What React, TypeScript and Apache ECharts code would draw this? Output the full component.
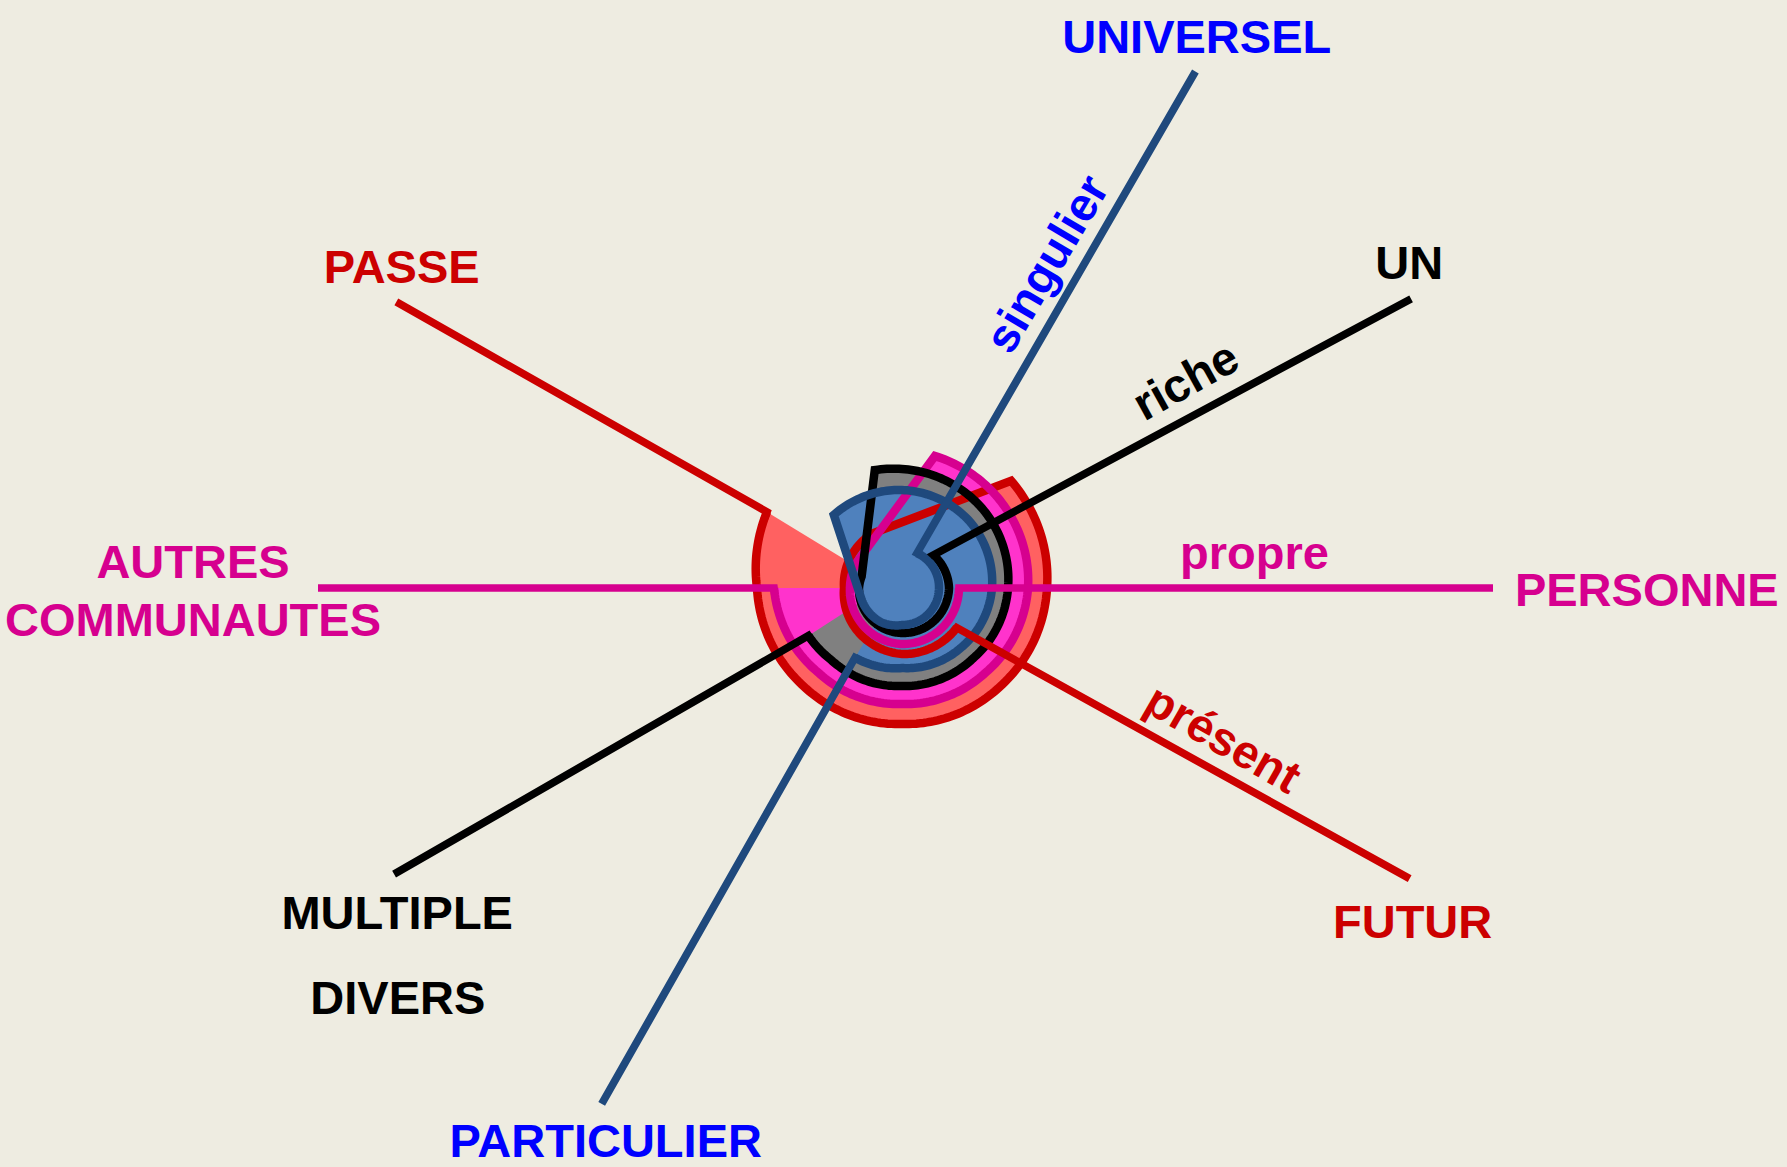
import React, { useEffect, useRef } from 'react';
import * as echarts from 'echarts';

// Spiral turns: [angle in degrees (counter-clockwise from east, continuing past 360), radius]
const redOuter = [[150.6, 155], [180, 145], [225, 139], [270, 136], [315, 139], [360, 145], [404.5, 153]];
const redInner = [[478, 62], [540, 58], [585, 62], [630, 66], [684, 67.6]];
const magentaOuter = [[180, 128], [225, 119], [270, 116], [315, 119], [360, 126], [436, 136]];
const magentaInner = [[510, 52], [540, 52], [630, 56], [720, 57]];
const blackOuter = [[207, 105], [225, 101], [270, 98], [315, 100], [360, 106], [405, 113], [450, 119], [463, 121]];
const blackInner = [[524, 42], [540, 43], [630, 45], [720, 47], [766.5, 45.5]];
const blueOuter = [[236, 84], [270, 80], [315, 84], [360, 90], [405, 95], [450, 98], [493, 100]];
const blueInner = [[557, 42], [600, 40], [630, 37], [720, 37], [786.6, 38]];

// Axis half-line far ends: [angle, radius]
const startAxisEnds = [[150.5, 581], [180, 584], [209.4, 583], [239.8, 597]]; // PASSE, AUTRES COMMUNAUTES, MULTIPLE, PARTICULIER
const endAxisEnds = [[330.2, 585], [0, 591], [29.6, 585.5], [60.4, 594]]; // FUTUR, PERSONNE, UN, UNIVERSEL

const spiralOuters = [redOuter, magentaOuter, blackOuter, blueOuter];
const spiralInners = [redInner, magentaInner, blackInner, blueInner];

// Text labels
const labelTexts = [
  'UNIVERSEL', 'singulier', 'PASSE', 'UN', 'riche', 'propre', 'PERSONNE',
  'AUTRES\nCOMMUNAUTES', 'présent', 'FUTUR', 'MULTIPLE', 'DIVERS', 'PARTICULIER',
];

// ---------- styles / layout ----------
const fills = ['#ff6161', '#ff33cc', '#808080', '#4f81bd'];
const strokes = ['#cc0000', '#d6008f', '#000000', '#1f497d'];
const BLUE_TXT = '#0000ff';
const RED_TXT = '#cc0000';
const MAG_TXT = '#d6008f';
const BLK_TXT = '#000000';
const labelLayout = [
  { x: 1196.7, y: 36, rot: 0, color: BLUE_TXT },
  { x: 1046.3, y: 263.5, rot: 59.5, color: BLUE_TXT },
  { x: 401.7, y: 266, rot: 0, color: RED_TXT },
  { x: 1409.2, y: 262, rot: 0, color: BLK_TXT },
  { x: 1185.3, y: 380, rot: 29, color: BLK_TXT },
  { x: 1254.5, y: 552, rot: 0, color: MAG_TXT },
  { x: 1646.8, y: 589, rot: 0, color: MAG_TXT },
  { x: 193, y: 590, rot: 0, color: MAG_TXT },
  { x: 1223.5, y: 738, rot: -30, color: RED_TXT },
  { x: 1412.6, y: 921, rot: 0, color: RED_TXT },
  { x: 397.2, y: 912, rot: 0, color: BLK_TXT },
  { x: 397.8, y: 997.5, rot: 0, color: BLK_TXT },
  { x: 605.7, y: 1140, rot: 0, color: BLUE_TXT },
];
const CX = 902;
const CY = 588;
const LW = 8.5;
const AXIS_LW = 7.7;

function toPx(api: any, a: number, r: number) {
  return api.coord([r, ((a % 360) + 360) % 360]);
}

function sampleTurn(api: any, turn: number[][]) {
  const pts: number[][] = [];
  for (let i = 0; i < turn.length - 1; i++) {
    const [a0, r0] = turn[i];
    const [a1, r1] = turn[i + 1];
    const n = Math.max(1, Math.ceil(Math.abs(a1 - a0) / 1.5));
    for (let k = 0; k < n; k++) {
      const t = k / n;
      pts.push(toPx(api, a0 + (a1 - a0) * t, r0 + (r1 - r0) * t));
    }
  }
  const last = turn[turn.length - 1];
  pts.push(toPx(api, last[0], last[1]));
  return pts;
}

function spiralPath(api: any, i: number) {
  return sampleTurn(api, spiralOuters[i]).concat(sampleTurn(api, spiralInners[i]));
}

function pointOnTurn(turn: number[][], fromEnd: boolean, delta: number) {
  if (!fromEnd) {
    const [a0, r0] = turn[0];
    const [a1, r1] = turn[1];
    const t = delta / (a1 - a0);
    return [a0 + delta, r0 + (r1 - r0) * t];
  }
  const [a0, r0] = turn[turn.length - 2];
  const [a1, r1] = turn[turn.length - 1];
  const t = delta / (a1 - a0);
  return [a1 - delta, r1 - (r1 - r0) * t];
}

export default function App() {
  const ref = useRef<HTMLDivElement>(null);
  useEffect(() => {
    const chart = echarts.init(ref.current!, null, { renderer: 'svg' });
    const idx = spiralOuters.map(() => [0, 0]);
    const option: any = {
      animation: false,
      backgroundColor: '#eeece1',
      polar: { center: [CX, CY], radius: 600 },
      angleAxis: { type: 'value', min: 0, max: 360, startAngle: 0, clockwise: false, show: false },
      radiusAxis: { type: 'value', min: 0, max: 600, show: false },
      series: [
        {
          type: 'custom',
          name: 'fills',
          coordinateSystem: 'polar',
          silent: true,
          z: 2,
          data: idx,
          renderItem: (params: any, api: any) => {
            const i = params.dataIndex;
            return {
              type: 'polygon',
              shape: { points: spiralPath(api, i) },
              style: { fill: fills[i], stroke: null, lineWidth: 0 },
            };
          },
        },
        {
          type: 'custom',
          name: 'strokes',
          coordinateSystem: 'polar',
          silent: true,
          z: 3,
          data: idx,
          renderItem: (params: any, api: any) => {
            const i = params.dataIndex;
            return {
              type: 'polyline',
              shape: { points: spiralPath(api, i) },
              style: { fill: null, stroke: strokes[i], lineWidth: LW, lineJoin: 'miter', lineCap: 'butt' },
            };
          },
        },
        {
          type: 'custom',
          name: 'axes',
          coordinateSystem: 'polar',
          silent: true,
          z: 4,
          data: idx,
          renderItem: (params: any, api: any) => {
            const i = params.dataIndex;
            const outer = spiralOuters[i];
            const inner = spiralInners[i];
            const s0 = pointOnTurn(outer, false, 3);
            const e0 = pointOnTurn(inner, true, 3);
            const sEnd = startAxisEnds[i];
            const eEnd = endAxisEnds[i];
            const style = { fill: null, stroke: strokes[i], lineWidth: AXIS_LW, lineJoin: 'miter', lineCap: 'butt' };
            return {
              type: 'group',
              children: [
                {
                  type: 'polyline',
                  shape: {
                    points: [toPx(api, s0[0], s0[1]), toPx(api, outer[0][0], outer[0][1]), toPx(api, sEnd[0], sEnd[1])],
                  },
                  style,
                },
                {
                  type: 'polyline',
                  shape: {
                    points: [
                      toPx(api, e0[0], e0[1]),
                      toPx(api, inner[inner.length - 1][0], inner[inner.length - 1][1]),
                      toPx(api, eEnd[0], eEnd[1]),
                    ],
                  },
                  style,
                },
              ],
            };
          },
        },
      ],
      graphic: labelTexts.map((t, k) => ({
        type: 'text',
        x: labelLayout[k].x,
        y: labelLayout[k].y,
        rotation: (labelLayout[k].rot * Math.PI) / 180,
        z: 10,
        silent: true,
        style: {
          text: t,
          fill: labelLayout[k].color,
          font: 'bold 47px "Liberation Sans", Arial, sans-serif',
          lineHeight: 58,
          align: 'center',
          verticalAlign: 'middle',
          textAlign: 'center',
          textVerticalAlign: 'middle',
        },
      })),
    };
    chart.setOption(option);
    return () => chart.dispose();
  }, []);
  return <div ref={ref} style={{ position: 'absolute', left: 0, top: 0, width: 1787, height: 1167 }} />;
}
